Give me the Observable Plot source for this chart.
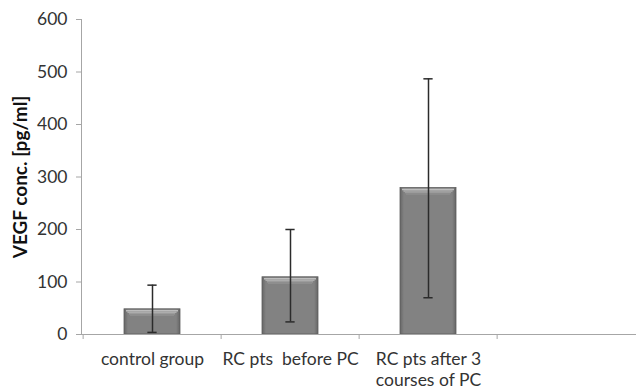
<!DOCTYPE html>
<html>
<head>
<meta charset="utf-8">
<script src="https://cdn.jsdelivr.net/npm/d3@7"></script>
<script src="https://cdn.jsdelivr.net/npm/@observablehq/plot@0.6"></script>
<style>
  html, body { margin: 0; padding: 0; background: #fff; }
  #chart { width: 636px; height: 391px; overflow: hidden; }
</style>
</head>
<body>
<div id="chart"></div>
<script>
const categories = ["control group", "RC pts  before PC", "RC pts after 3\ncourses of PC", ""];
const means   = [48, 109, 279, null];
const errLow  = [4, 24, 70, null];
const errHigh = [94, 200, 487, null];
const yTicks  = [0, 100, 200, 300, 400, 500, 600];
const yLabel  = "VEGF conc. [pg/ml]";

const rows = categories.map((c, i) => ({cat: c, mean: means[i], lo: errLow[i], hi: errHigh[i]}));
const bars = rows.filter(d => d.mean != null);

const W = 636, H = 391, ML = 81, MR = 0, MT = 19, MB = 57;
const step = (W - ML - MR) / categories.length;
const barInset = 41;

function defs() {
  const d = d3.create("svg:defs");
  const g = d.append("linearGradient").attr("id", "barGrad").attr("x1", 0).attr("x2", 1).attr("y1", 0).attr("y2", 0);
  g.append("stop").attr("offset", "0%").attr("stop-color", "#666");
  g.append("stop").attr("offset", "7%").attr("stop-color", "#828282");
  g.append("stop").attr("offset", "93%").attr("stop-color", "#828282");
  g.append("stop").attr("offset", "100%").attr("stop-color", "#666");
  return d.node();
}

const bevel = [
  {dy: 1.5, c: "#bdbdbd", i: barInset + 2},
  {dy: 3.0, c: "#adadad", i: barInset + 3.5},
  {dy: 4.5, c: "#9c9c9c", i: barInset + 5},
  {dy: 6.0, c: "#8e8e8e", i: barInset + 6}
];

const chart = Plot.plot({
  width: W, height: H,
  marginLeft: ML, marginRight: MR, marginTop: MT, marginBottom: MB,
  style: {fontFamily: "Lato, 'Open Sans', sans-serif", fontSize: "17.5px", background: "#fff", overflow: "visible"},
  x: {type: "band", domain: categories, padding: 0, axis: null},
  y: {domain: [0, 600], axis: null},
  marks: [
    defs,
    Plot.frame({anchor: "left", stroke: "#a6a6a6"}),
    Plot.axisY({ticks: yTicks, tickSize: 5, tickPadding: 9, stroke: "#a6a6a6", fill: "#333", label: null, fontSize: 17.5}),
    Plot.axisX({tickSize: 5, stroke: "#a6a6a6", dx: -step / 2, tickFormat: () => "", label: null}),
    Plot.axisX({tickSize: 0, tickPadding: 15, fill: "#333", lineHeight: 1.22, fontSize: 17.5,
      tickFormat: d => d.replace("  ", " \u00a0"), label: null}),
    Plot.barY(bars, {x: "cat", y: "mean", fill: "url(#barGrad)", stroke: "#5e5e5e", strokeWidth: 0.8, insetLeft: barInset, insetRight: barInset}),
    ...bevel.map(b => Plot.tickY(bars, {x: "cat", y: "mean", stroke: b.c, strokeWidth: 1.6, dy: b.dy, insetLeft: b.i, insetRight: b.i})),
    Plot.ruleY([0], {stroke: "#a6a6a6"}),
    Plot.ruleX(bars, {x: "cat", y1: "lo", y2: "hi", stroke: "#2b2b2b", strokeWidth: 1.5}),
    Plot.tickY(bars, {x: "cat", y: "lo", stroke: "#2b2b2b", strokeWidth: 1.5, insetLeft: step / 2 - 5, insetRight: step / 2 - 5}),
    Plot.tickY(bars, {x: "cat", y: "hi", stroke: "#2b2b2b", strokeWidth: 1.5, insetLeft: step / 2 - 5, insetRight: step / 2 - 5}),
    Plot.text([yLabel], {text: d => d, frameAnchor: "left", textAnchor: "middle", dx: -61, rotate: -90, fontWeight: "bold", fontSize: 19, fill: "#111"})
  ]
});
document.getElementById("chart").appendChild(chart);
</script>
</body>
</html>
